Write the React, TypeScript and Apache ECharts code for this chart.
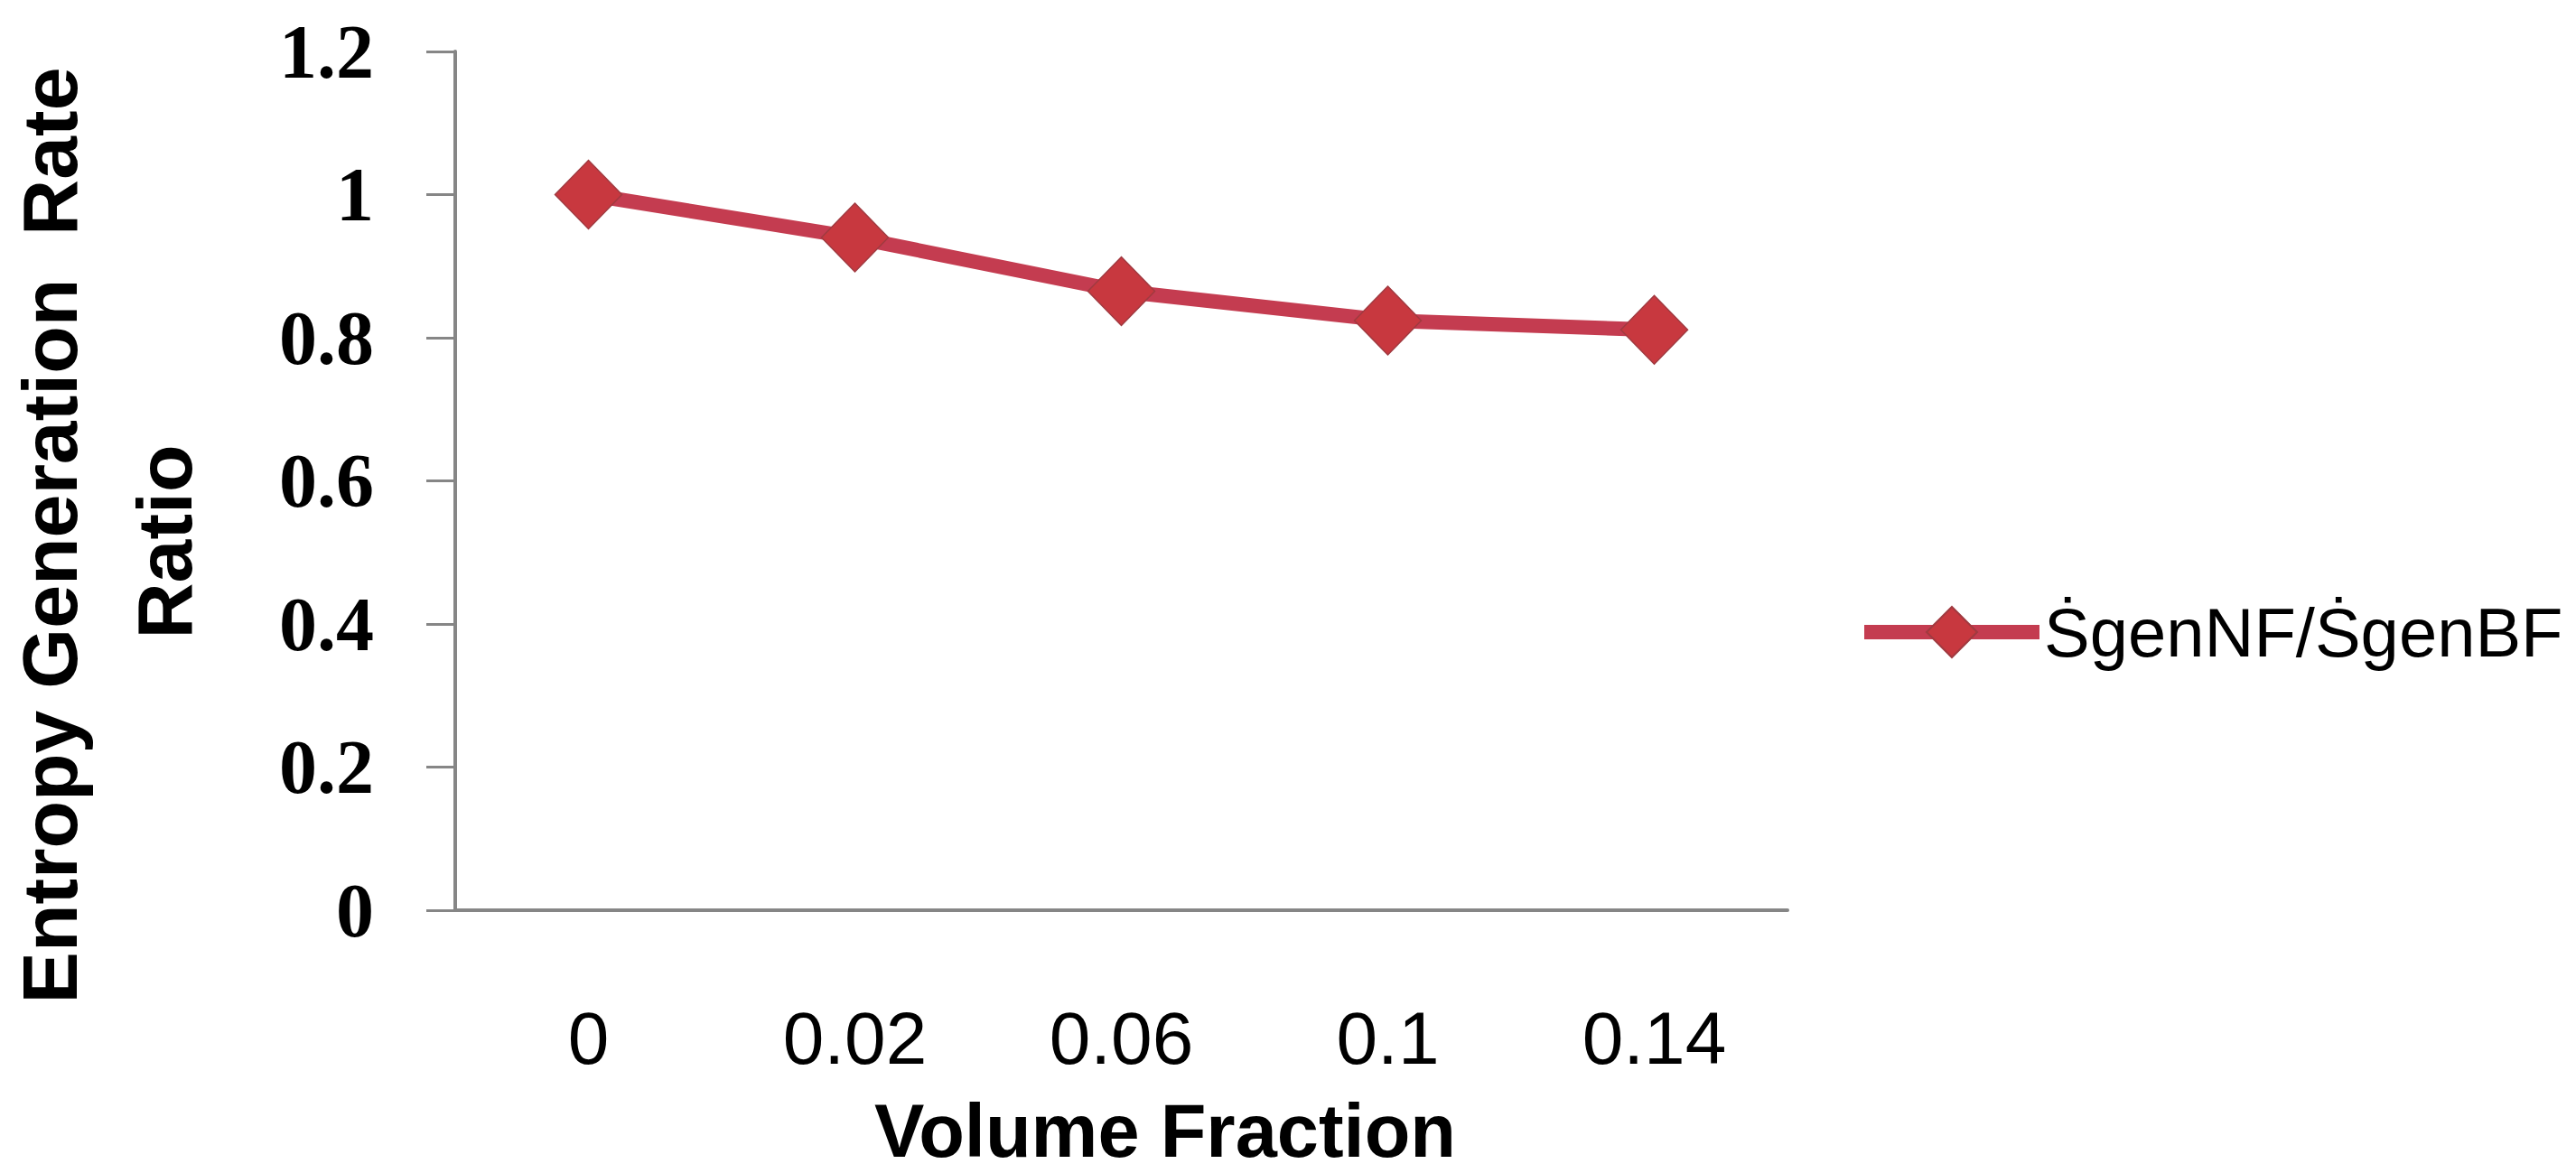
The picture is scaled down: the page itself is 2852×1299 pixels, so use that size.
import React, { useEffect, useRef } from 'react';
import * as echarts from 'echarts';

const categories = ['0', '0.02', '0.06', '0.1', '0.14'];
const ratioValues = [1, 0.94, 0.865, 0.824, 0.811];
const seriesName = 'ṠgenNF/ṠgenBF';
const xTitle = 'Volume Fraction';
const yTitleLines = ['Entropy Generation  Rate', 'Ratio'];

const LINE_COLOR = '#C43C50';
const MARKER_COLOR = '#C8383F';
const AXIS_COLOR = '#868686';

export default function App() {
  const ref = useRef<HTMLDivElement>(null);
  useEffect(() => {
    document.body.style.margin = '0';
    const chart = echarts.init(ref.current!, null, { renderer: 'svg' });
    chart.setOption({
      animation: false,
      backgroundColor: '#ffffff',
      grid: { left: 504, right: 873, top: 57, bottom: 291, containLabel: false },
      xAxis: {
        type: 'category',
        data: categories,
        boundaryGap: true,
        axisLine: { show: true, lineStyle: { color: AXIS_COLOR, width: 4 } },
        axisTick: { show: false },
        axisLabel: {
          interval: 0,
          margin: 100,
          color: '#000',
          fontFamily: 'Liberation Sans',
          fontSize: 82,
        },
        splitLine: { show: false },
      },
      yAxis: {
        type: 'value',
        min: 0,
        max: 1.2,
        interval: 0.2,
        axisLine: { show: true, lineStyle: { color: AXIS_COLOR, width: 4 } },
        axisTick: { show: true, length: 32, lineStyle: { color: AXIS_COLOR, width: 3 } },
        axisLabel: {
          margin: 90,
          color: '#000',
          fontFamily: 'Liberation Serif',
          fontWeight: 'bold',
          fontSize: 84,
        },
        splitLine: { show: false },
      },
      legend: {
        data: [seriesName],
        orient: 'vertical',
        left: 2056,
        top: 662,
        padding: 0,
        itemWidth: 194,
        itemHeight: 70,
        lineStyle: { width: 16 },
        textStyle: { fontFamily: 'Liberation Sans', fontSize: 76, color: '#000' },
      },
      series: [
        {
          name: seriesName,
          type: 'line',
          data: ratioValues,
          symbol: 'diamond',
          symbolSize: [74, 76],
          lineStyle: { color: LINE_COLOR, width: 16 },
          itemStyle: { color: MARKER_COLOR, borderColor: '#A03A40', borderWidth: 1.5 },
        },
      ],
      graphic: [
        {
          type: 'text',
          x: 55,
          y: 593,
          rotation: Math.PI / 2,
          style: {
            text: yTitleLines[0],
            fontFamily: 'Liberation Sans',
            fontWeight: 'bold',
            fontSize: 86,
            fill: '#000',
            align: 'center',
            verticalAlign: 'middle',
          },
        },
        {
          type: 'text',
          x: 182,
          y: 600,
          rotation: Math.PI / 2,
          style: {
            text: yTitleLines[1],
            fontFamily: 'Liberation Sans',
            fontWeight: 'bold',
            fontSize: 86,
            fill: '#000',
            align: 'center',
            verticalAlign: 'middle',
          },
        },
        {
          type: 'text',
          x: 1290,
          y: 1252,
          style: {
            text: xTitle,
            fontFamily: 'Liberation Sans',
            fontWeight: 'bold',
            fontSize: 83,
            lineHeight: 83,
            fill: '#000',
            align: 'center',
            verticalAlign: 'middle',
          },
        },
      ],
    });
    return () => chart.dispose();
  }, []);
  return <div ref={ref} style={{ width: 2852, height: 1299 }} />;
}
